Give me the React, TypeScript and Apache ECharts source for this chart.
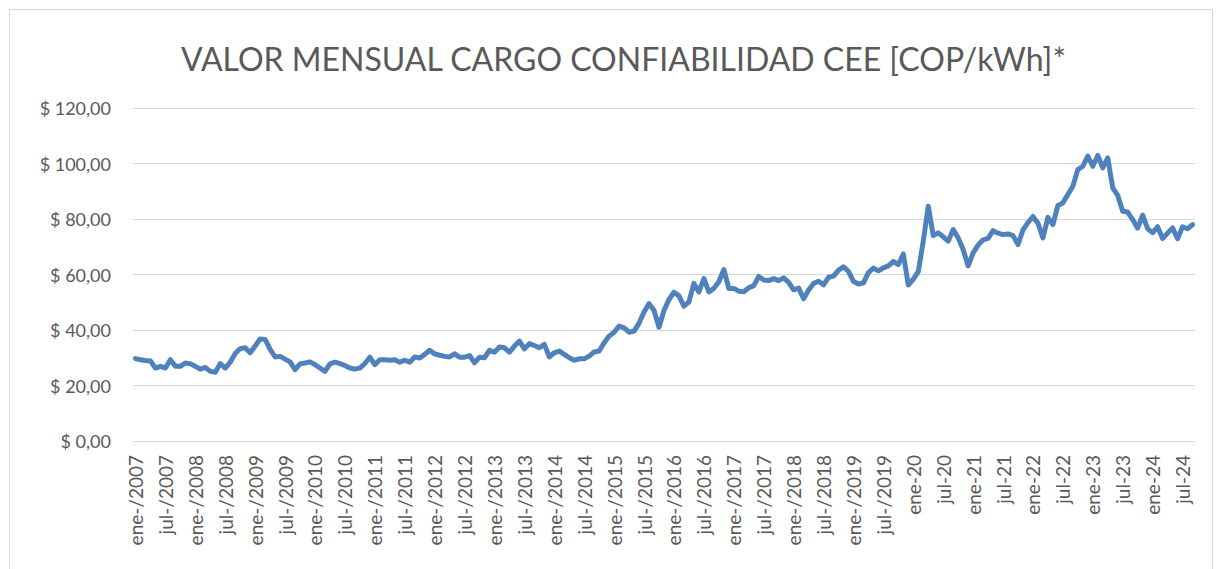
import React, { useEffect, useRef } from "react";
import * as echarts from "echarts";

const TITLE = "VALOR MENSUAL CARGO CONFIABILIDAD CEE [COP/kWh]*";
const MONTHS = ["ene", "feb", "mar", "abr", "may", "jun", "jul", "ago", "sep", "oct", "nov", "dic"];
const START_YEAR = 2007;
const END_YEAR = 2024;
const END_MONTH = 9; // septiembre 2024

// Category labels: "ene-/2007" style until 2019, "ene-20" style from 2020
const categories: string[] = [];
for (let y = START_YEAR; y <= END_YEAR; y++) {
  for (let m = 0; m < 12; m++) {
    if (y === END_YEAR && m >= END_MONTH) break;
    categories.push(y < 2020 ? `${MONTHS[m]}-/${y}` : `${MONTHS[m]}-${String(y).slice(2)}`);
  }
}

const values2007_2010: number[] = [
  29.7, 29.3, 29.0, 28.8, 26.3, 26.9, 26.3, 29.3, 26.9, 26.9, 28.1, 27.8,
  26.9, 25.9, 26.5, 25.1, 24.8, 27.9, 26.3, 28.4, 31.5, 33.3, 33.6, 31.8,
  34.2, 36.8, 36.6, 33.0, 30.3, 30.5, 29.5, 28.5, 25.7, 27.8, 28.1, 28.5,
  27.5, 26.3, 25.1, 27.8, 28.4, 27.9, 27.2, 26.3, 25.9, 26.3, 27.9, 30.2,
];
const values2011_2014: number[] = [
  27.5, 29.3, 29.3, 29.1, 29.3, 28.4, 29.1, 28.4, 30.3, 29.9, 31.2, 32.7,
  31.4, 30.9, 30.5, 30.3, 31.4, 30.2, 30.2, 30.8, 28.2, 30.2, 30.0, 32.7,
  32.0, 33.9, 33.6, 32.0, 34.2, 36.0, 33.2, 35.1, 34.4, 33.6, 34.8, 30.3,
  31.8, 32.4, 31.2, 30.0, 29.1, 29.6, 29.6, 30.6, 32.1, 32.4, 35.4, 37.8,
];
const values2015_2018: number[] = [
  39.2, 41.4, 40.8, 39.2, 39.6, 42.5, 46.5, 49.5, 47.0, 41.0, 47.0, 51.0,
  53.6, 52.3, 48.6, 50.1, 56.8, 53.7, 58.5, 53.7, 55.0, 57.4, 61.8, 55.0,
  55.0, 54.0, 53.8, 55.2, 56.0, 59.3, 58.0, 57.8, 58.5, 57.8, 58.8, 57.2,
  54.5, 55.1, 51.3, 54.4, 56.8, 57.6, 56.3, 59.0, 59.4, 61.6, 62.8, 61.1,
];
const values2019_2022: number[] = [
  57.5, 56.6, 57.0, 60.7, 62.3, 61.3, 62.4, 63.1, 64.7, 63.6, 67.4, 56.2,
  58.3, 61.0, 72.0, 84.6, 74.0, 75.0, 73.6, 72.0, 76.2, 73.2, 69.0, 63.1,
  67.8, 70.6, 72.5, 73.0, 75.8, 74.9, 74.4, 74.6, 74.0, 70.8, 76.1, 78.7,
  80.9, 78.5, 73.2, 80.6, 78.0, 84.9, 85.8, 88.8, 91.8, 97.8, 99.0, 102.7,
];
const values2023_2024: number[] = [
  99.0, 102.9, 98.4, 102.0, 91.2, 88.5, 82.8, 82.5, 79.8, 76.7, 81.4, 76.5,
  75.1, 77.2, 73.0, 74.9, 76.8, 72.9, 77.2, 76.5, 78.0,
];

const seriesValues: number[] = [
  ...values2007_2010,
  ...values2011_2014,
  ...values2015_2018,
  ...values2019_2022,
  ...values2023_2024,
];

const Y_MIN = 0;
const Y_MAX = 120;
const Y_STEP = 20;

const FONT = "Lato, 'Open Sans', sans-serif";
const TEXT_COLOR = "#595959";

export default function App() {
  const ref = useRef<HTMLDivElement>(null);

  useEffect(() => {
    document.body.style.margin = "0";
    if (!ref.current) return;
    const chart = echarts.init(ref.current, undefined, { renderer: "svg" });
    chart.setOption({
      animation: false,
      backgroundColor: "#ffffff",
      title: {
        text: TITLE,
        left: 176,
        top: 37,
        textStyle: {
          fontFamily: FONT,
          fontWeight: "normal",
          fontSize: 32,
          color: TEXT_COLOR,
        },
      },
      graphic: [
        {
          type: "rect",
          shape: { x: 9.5, y: 9.5, width: 1203, height: 580 },
          style: { fill: "none", stroke: "#d9d9d9", lineWidth: 1 },
          silent: true,
        },
      ],
      grid: { left: 133, right: 25, top: 108, bottom: 128 },
      xAxis: {
        type: "category",
        data: categories,
        boundaryGap: true,
        axisLine: { show: true, lineStyle: { color: "#d9d9d9", width: 1 } },
        axisTick: { show: false },
        axisLabel: {
          interval: 5,
          rotate: 90,
          fontFamily: FONT,
          fontSize: 19,
          color: TEXT_COLOR,
          margin: 14,
        },
      },
      yAxis: {
        type: "value",
        min: Y_MIN,
        max: Y_MAX,
        interval: Y_STEP,
        axisLine: { show: false },
        axisTick: { show: false },
        splitLine: { lineStyle: { color: "#d9d9d9", width: 1 } },
        axisLabel: {
          fontFamily: FONT,
          fontSize: 18,
          color: TEXT_COLOR,
          margin: 22,
          formatter: (v: number) => "$ " + v.toFixed(2).replace(".", ","),
        },
      },
      series: [
        {
          type: "line",
          data: seriesValues,
          showSymbol: false,
          symbol: "none",
          lineStyle: { color: "#4f81bd", width: 5, cap: "round", join: "round" },
        },
      ],
    });
    return () => chart.dispose();
  }, []);

  return <div ref={ref} style={{ width: 1220, height: 569 }} />;
}
